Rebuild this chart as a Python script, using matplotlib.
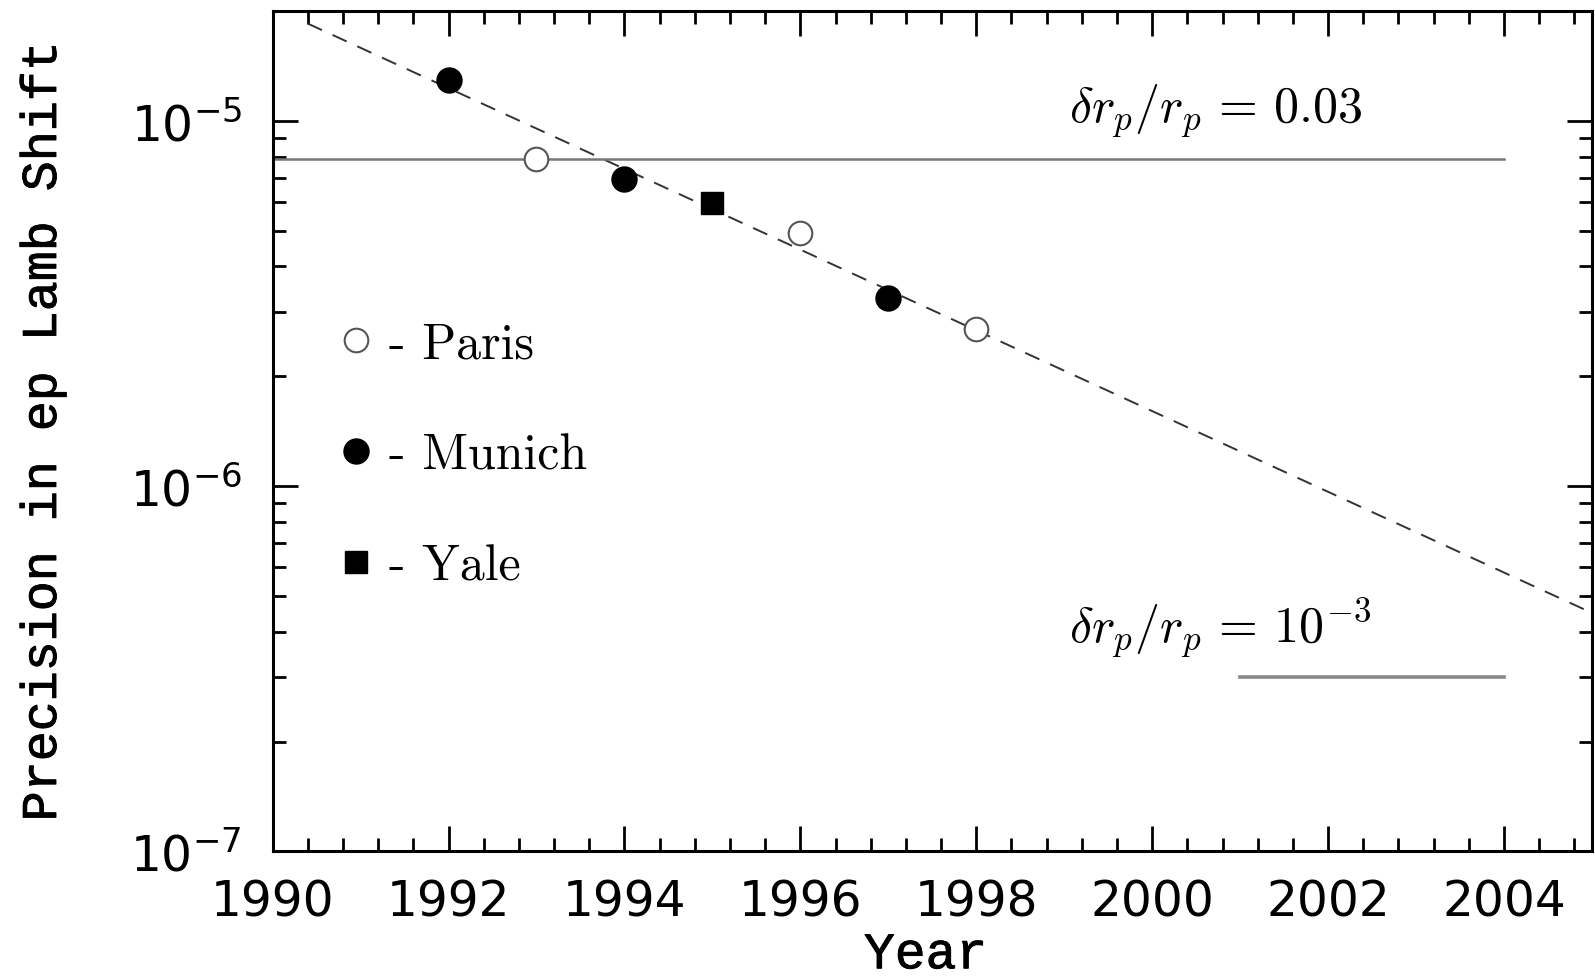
import matplotlib
matplotlib.use("Agg")
import matplotlib.pyplot as plt
import matplotlib.patheffects as pe
import numpy as np
from matplotlib.ticker import FixedLocator, LogLocator, NullFormatter, FuncFormatter

plt.rcParams['font.family'] = 'DejaVu Sans'

# measurements of the ep Lamb shift precision
paris_year = [1993, 1996, 1998]
paris_prec = [7.9e-6, 4.95e-6, 2.7e-6]
munich_year = [1992, 1994, 1997]
munich_prec = [1.30e-5, 6.95e-6, 3.28e-6]
yale_year = [1995]
yale_prec = [5.95e-6]

# trend line through the data
trend_year = [1990.4, 2005.0]
trend_prec = [1.85e-5, 4.5e-7]

# precision needed for a given proton radius uncertainty
lim_a_year = [1990, 2004]
lim_a_prec = [7.9e-6, 7.9e-6]
lim_b_year = [2001, 2004]
lim_b_prec = [3.0e-7, 3.0e-7]

fig = plt.figure(figsize=(15.95, 9.78), dpi=100)
ax = fig.add_axes([0.1709, 0.1284, 0.8272, 0.8591])

ax.plot(trend_year, trend_prec, color='#333333', lw=1.4, dashes=(8, 6))
ax.plot(lim_a_year, lim_a_prec, color='#777777', lw=1.8)
ax.plot(lim_b_year, lim_b_prec, color='#888888', lw=2.6)

hp, = ax.plot(paris_year, paris_prec, 'o', ms=17, mfc='white', mec='#555555', mew=1.5, ls='none')
hm, = ax.plot(munich_year, munich_prec, 'o', ms=18, mfc='black', mec='black', ls='none')
hy, = ax.plot(yale_year, yale_prec, 's', ms=16.5, mfc='black', mec='black', ls='none')

ax.text(1999.05, 1.0e-5, r'$\delta r_p/r_p \,=\, 0.03$', fontsize=36,
        math_fontfamily='cm', va='baseline', ha='left')
ax.text(1999.05, 3.75e-7, r'$\delta r_p/r_p \,=\, 10^{-3}$', fontsize=36,
        math_fontfamily='cm', va='baseline', ha='left')

leg = ax.legend([hp, hm, hy], ['- Paris', '- Munich', '- Yale'],
                loc='upper left', bbox_to_anchor=(0.035, 0.66), frameon=False,
                prop=dict(family='cmr10', size=36), handlelength=0.5,
                handletextpad=0.4, labelspacing=1.3, borderpad=0)

ax.set_yscale('log')
ax.set_xlim(1990, 2005)
ax.set_ylim(1e-7, 2.0e-5)

ax.xaxis.set_major_locator(FixedLocator(np.arange(1990, 2005, 2)))
ax.xaxis.set_minor_locator(FixedLocator(np.arange(1990, 2005.01, 0.4)))
ax.yaxis.set_major_locator(LogLocator(base=10, numticks=10))
ax.yaxis.set_minor_locator(LogLocator(base=10, subs=np.arange(2, 10), numticks=20))
ax.yaxis.set_major_formatter(FuncFormatter(lambda v, p: r'$\mathregular{10^{%d}}$' % round(np.log10(v))))
ax.yaxis.set_minor_formatter(NullFormatter())

ax.tick_params(which='both', direction='in', top=True, right=True, width=2)
ax.tick_params(which='major', length=18, labelsize=35)
ax.tick_params(which='minor', length=9.5)
ax.tick_params(axis='x', which='major', pad=19)
ax.tick_params(axis='y', which='major', pad=22)
for s in ax.spines.values():
    s.set_linewidth(2.2)

# typewriter labels, thickened a little
thick = [pe.withStroke(linewidth=0.6, foreground='black')]
ax.set_xlabel('Year', family='Liberation Mono', fontsize=37, va='center', path_effects=thick)
ax.set_ylabel('Precision in ep Lamb Shift', family='Liberation Mono',
              fontsize=36, va='center', path_effects=thick)
ax.xaxis.set_label_coords(0.495, -0.123)
ax.yaxis.set_label_coords(-0.174, 0.5)

fig.savefig('out.png', dpi=100)
